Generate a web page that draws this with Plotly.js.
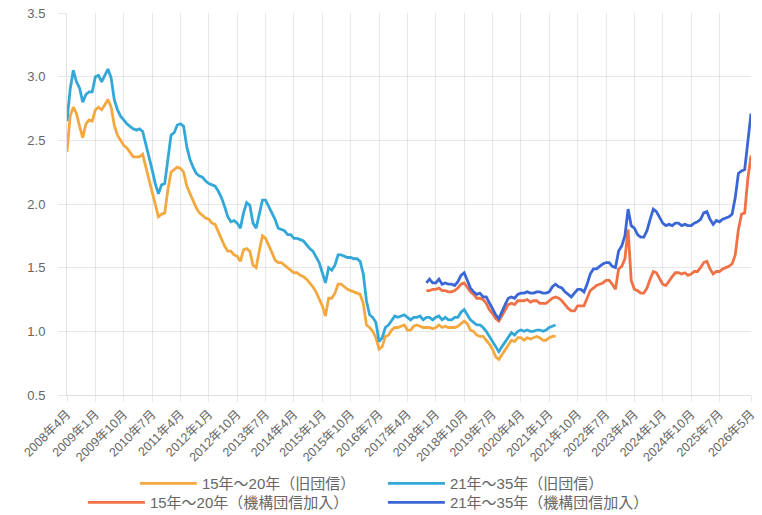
<!DOCTYPE html>
<html>
<head>
<meta charset="utf-8">
<script src="https://cdn.plot.ly/plotly-3.0.1.min.js"></script>
<style>
html,body{margin:0;padding:0;background:#fff;}
#chart{width:762px;height:515px;}
</style>
</head>
<body>
<div id="chart"></div>
<script>
// Month categories: 2008年4月 .. 2026年5月 (218 months)
const startYear = 2008, startMonth = 4, monthCount = 218;
const months = [];
for (let i = 0; i < monthCount; i++) {
  const t = (startMonth - 1) + i;
  months.push((startYear + Math.floor(t / 12)) + '年' + (t % 12 + 1) + '月');
}

// Tick labels shown on the x axis
const tickLabels = ['2008年4月','2009年1月','2009年10月','2010年7月','2011年4月','2012年1月','2012年10月','2013年7月','2014年4月','2015年1月','2015年10月','2016年7月','2017年4月','2018年1月','2018年10月','2019年7月','2020年4月','2021年1月','2021年10月','2022年7月','2023年4月','2024年1月','2024年10月','2025年7月','2026年5月'];

// 15年～20年（旧団信） 2008年4月 .. 2021年3月
const old15 = [2.41,2.69,2.76,2.71,2.61,2.52,2.63,2.66,2.65,2.74,2.76,2.74,2.78,2.82,2.76,2.62,2.54,2.50,2.46,2.44,
2.40,2.37,2.37,2.37,2.39,2.29,2.19,2.08,1.98,1.90,1.92,1.93,2.11,2.25,2.27,2.29,2.28,2.25,2.14,2.08,
2.03,1.97,1.93,1.91,1.89,1.88,1.85,1.84,1.78,1.72,1.67,1.63,1.63,1.60,1.59,1.55,1.64,1.65,1.63,1.52,
1.50,1.63,1.75,1.73,1.68,1.62,1.56,1.54,1.54,1.52,1.50,1.48,1.46,1.46,1.44,1.43,1.41,1.38,1.35,1.31,
1.26,1.20,1.12,1.26,1.26,1.30,1.37,1.37,1.35,1.33,1.32,1.31,1.30,1.29,1.22,1.05,1.03,1.00,0.95,0.86,
0.88,0.96,0.97,1.01,1.03,1.03,1.04,1.05,1.01,1.01,1.04,1.05,1.04,1.03,1.03,1.03,1.02,1.03,1.05,1.03,
1.04,1.03,1.03,1.03,1.04,1.06,1.08,1.06,1.01,1.00,0.97,0.96,0.96,0.93,0.90,0.86,0.80,0.78,0.82,0.86,
0.90,0.93,0.92,0.95,0.95,0.93,0.95,0.94,0.95,0.96,0.95,0.93,0.93,0.95,0.96,0.96];

// 21年～35年（旧団信） 2008年4月 .. 2021年3月
const old21 = [2.65,2.90,3.05,2.96,2.91,2.80,2.86,2.88,2.88,3.00,3.01,2.96,3.01,3.06,2.99,2.82,2.74,2.69,2.66,2.63,
2.61,2.59,2.58,2.59,2.57,2.48,2.37,2.27,2.16,2.08,2.15,2.16,2.37,2.54,2.56,2.62,2.63,2.61,2.45,2.35,
2.29,2.24,2.22,2.21,2.18,2.16,2.15,2.14,2.10,2.05,1.98,1.90,1.86,1.87,1.85,1.81,1.93,2.01,1.99,1.85,
1.81,1.93,2.03,2.03,1.98,1.94,1.88,1.81,1.80,1.79,1.76,1.76,1.73,1.73,1.72,1.71,1.68,1.65,1.63,1.59,
1.54,1.46,1.38,1.50,1.48,1.52,1.60,1.60,1.59,1.58,1.58,1.57,1.57,1.55,1.45,1.24,1.13,1.11,1.07,0.92,
0.95,1.03,1.05,1.09,1.12,1.11,1.12,1.13,1.11,1.09,1.11,1.11,1.12,1.09,1.11,1.11,1.09,1.11,1.12,1.09,
1.11,1.09,1.09,1.11,1.11,1.15,1.17,1.13,1.09,1.07,1.05,1.05,1.03,1.00,0.96,0.92,0.87,0.84,0.88,0.92,
0.96,0.99,0.97,1.00,1.01,1.00,1.01,1.00,1.00,1.01,1.01,1.00,1.01,1.03,1.04,1.05];

// 15年～20年（機構団信加入） 2017年10月 .. 2026年5月
const new15 = [1.32,1.32,1.33,1.33,1.34,1.32,1.32,1.31,1.31,1.32,1.34,1.37,1.38,1.34,1.31,1.29,1.26,1.26,1.25,1.22,
1.17,1.14,1.10,1.08,1.12,1.16,1.21,1.22,1.21,1.24,1.24,1.24,1.25,1.23,1.24,1.24,1.22,1.22,1.22,1.24,
1.26,1.27,1.26,1.24,1.21,1.18,1.16,1.16,1.20,1.20,1.20,1.26,1.32,1.34,1.36,1.37,1.38,1.40,1.40,1.37,
1.33,1.49,1.51,1.57,1.80,1.40,1.33,1.32,1.30,1.30,1.34,1.41,1.47,1.46,1.42,1.37,1.36,1.40,1.43,1.46,
1.46,1.45,1.46,1.44,1.45,1.47,1.47,1.50,1.54,1.55,1.49,1.45,1.47,1.47,1.49,1.50,1.51,1.53,1.60,1.80,
1.92,1.93,2.20,2.38];

// 21年～35年（機構団信加入） 2017年10月 .. 2026年5月
const new21 = [1.38,1.41,1.38,1.38,1.41,1.37,1.38,1.37,1.37,1.36,1.39,1.44,1.46,1.40,1.34,1.31,1.29,1.30,1.27,1.27,
1.22,1.18,1.13,1.10,1.16,1.21,1.26,1.27,1.26,1.29,1.30,1.30,1.31,1.30,1.30,1.31,1.31,1.30,1.30,1.31,
1.35,1.37,1.35,1.34,1.31,1.29,1.27,1.30,1.33,1.33,1.31,1.37,1.45,1.49,1.49,1.51,1.53,1.54,1.54,1.51,
1.50,1.63,1.67,1.75,1.96,1.83,1.81,1.76,1.74,1.74,1.79,1.88,1.96,1.94,1.89,1.85,1.83,1.84,1.83,1.85,
1.85,1.83,1.84,1.83,1.83,1.85,1.86,1.88,1.93,1.94,1.88,1.84,1.87,1.86,1.88,1.89,1.90,1.92,2.05,2.24,
2.26,2.27,2.48,2.71];

const seriesNames = ['15年～20年（旧団信）','21年～35年（旧団信）','15年～20年（機構団信加入）','21年～35年（機構団信加入）'];
const seriesColors = ['#F4A940','#33A8D8','#F07145','#3A66D6'];

const oldX = months.slice(0, old15.length);
const newX = months.slice(monthCount - new15.length);

const fontFam = '"Liberation Sans", "Noto Sans CJK JP", Arial, sans-serif';

function mk(x, y, i, leg, lw) {
  return {
    type: 'scatter', mode: 'lines', x: x, y: y, name: seriesNames[i],
    line: {color: seriesColors[i], width: 2.8},
    legend: leg, legendwidth: lw, hoverinfo: 'x+y'
  };
}

const data = [
  mk(oldX, old15, 0, 'legend', 176),
  mk(oldX, old21, 1, 'legend', 160),
  mk(newX, new15, 2, 'legend2', 228),
  mk(newX, new21, 3, 'legend2', 212)
];

const legendBase = {
  orientation: 'h', xref: 'container', yref: 'container',
  x: 0.492, xanchor: 'center', yanchor: 'top',
  font: {family: fontFam, size: 15, color: '#666'},
  itemwidth: 57, bgcolor: 'rgba(0,0,0,0)', traceorder: 'normal'
};

const layout = {
  width: 762, height: 515,
  margin: {l: 67, r: 11, t: 13, b: 120},
  paper_bgcolor: '#fff', plot_bgcolor: '#fff',
  font: {family: fontFam, size: 12, color: '#666'},
  showlegend: true,
  legend: Object.assign({}, legendBase, {y: 0.093}),
  legend2: Object.assign({}, legendBase, {y: 0.056}),
  xaxis: {
    type: 'category', categoryorder: 'array', categoryarray: months,
    range: [0, monthCount - 1],
    tickmode: 'array', tickvals: tickLabels, ticktext: tickLabels,
    tickangle: -45, tickfont: {size: 12.5, color: '#666'},
    showgrid: true, gridcolor: 'rgba(0,0,0,0.09)', gridwidth: 1,
    ticks: 'outside', ticklen: 6, tickcolor: 'rgba(0,0,0,0.09)',
    showline: true, linecolor: 'rgba(0,0,0,0.12)', linewidth: 1,
    zeroline: false, fixedrange: true
  },
  yaxis: {
    range: [0.5, 3.5], dtick: 0.5, tick0: 0.5, tickformat: '.1f',
    tickfont: {size: 13, color: '#666'},
    showgrid: true, gridcolor: 'rgba(0,0,0,0.09)', gridwidth: 1,
    ticks: 'outside', ticklen: 8, tickcolor: 'rgba(0,0,0,0.09)',
    ticklabelstandoff: 10,
    showline: true, linecolor: 'rgba(0,0,0,0.12)', linewidth: 1,
    zeroline: false, fixedrange: true
  }
};

Plotly.newPlot('chart', data, layout, {displayModeBar: false, staticPlot: true});
</script>
</body>
</html>
